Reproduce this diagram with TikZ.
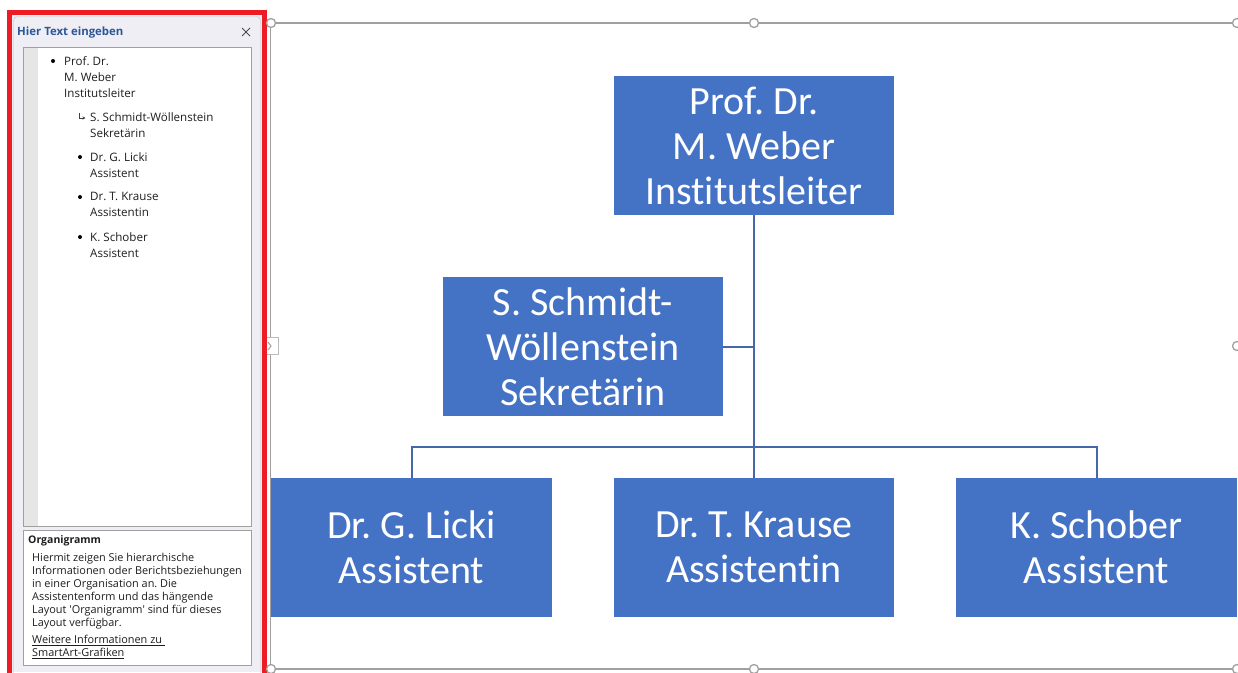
\documentclass[tikz,border=0pt]{standalone}
\usepackage{fontspec}
\setmainfont{Carlito}[Ligatures=NoCommon]
\newfontfamily\uifont{Open Sans}
\usetikzlibrary{arrows.meta}
\frenchspacing
\definecolor{boxblue}{RGB}{68,114,196}
\definecolor{wireblue}{RGB}{68,104,168}
\definecolor{panelbg}{RGB}{238,238,244}
\definecolor{panelrule}{RGB}{190,190,200}
\definecolor{stripgray}{RGB}{230,230,230}
\definecolor{framegray}{RGB}{160,160,160}
\definecolor{alertred}{RGB}{237,28,36}
\definecolor{titleblue}{RGB}{43,87,154}
\definecolor{uitext}{RGB}{30,30,30}
\tikzset{
  orgbox/.style={fill=boxblue, text=white, minimum width=280pt, minimum height=139pt,
    inner sep=0pt, align=center, font=\fontsize{40}{45}\selectfont},
  wire/.style={draw=wireblue, line width=2pt},
  handle/.style={circle, draw=framegray, fill=white, line width=1.3pt, minimum size=9pt, inner sep=0pt},
  entry/.style={anchor=north west, inner sep=0pt, align=left, text=uitext,
    font=\uifont\fontsize{11.6}{16}\selectfont},
  blurb/.style={anchor=north west, inner sep=0pt, align=left, text=uitext,
    font=\uifont\fontsize{10.9}{13}\selectfont},
  dot/.style={circle, fill=black, minimum size=4pt, inner sep=0pt},
}
\begin{document}
\begin{tikzpicture}[x=1pt, y=-1pt]
\useasboundingbox (0,0) rectangle (1238,672);
\fill[white] (0,0) rectangle (1238,672);

% ---- text pane on the left ----
\fill[panelbg] (12,15) rectangle (262,672);
\draw[panelrule, rounded corners=4pt] (13.5,16.5) -- (260.5,16.5) -- (260.5,680) -- (13.5,680) -- cycle;
\node[anchor=mid west, inner sep=0pt, text=titleblue, font=\uifont\bfseries\fontsize{11.4}{13}\selectfont] (panetitle) at (17,33.5) {Hier Text eingeben};
\draw[black!70, line width=1pt] (242,28) -- (250,36) (242,36) -- (250,28);

% entry list
\draw[framegray, fill=white] (23.5,47.5) rectangle (251.5,526.5);
\fill[stripgray] (24,48) rectangle (38,526);
\node[dot] (b1) at (53,61) {};
\node[entry] (e1) at (64,56) {Prof. Dr.\\M. Weber\\Institutsleiter};
\draw[black!75, line width=0.7pt, -{Stealth[length=3pt,width=3pt]}] (79,112.5) |- (85.5,118);
\node[entry] (e2) at (90,112) {S. Schmidt-Wöllenstein\\Sekretärin};
\node[dot] (b3) at (80,157) {};
\node[entry] (e3) at (90,152) {Dr. G. Licki\\Assistent};
\node[dot] (b4) at (80,197) {};
\node[entry] (e4) at (90,192) {Dr. T. Krause\\Assistentin};
\node[dot] (b5) at (80,237) {};
\node[entry] (e5) at (90,232) {K. Schober\\Assistent};

% description box
\draw[framegray, fill=white] (23.5,530.5) rectangle (251.5,665.5);
\node[anchor=mid west, inner sep=0pt, text=uitext, font=\uifont\bfseries\fontsize{10.5}{12}\selectfont] (desctitle) at (28,541) {Organigramm};
\node[blurb] (desc) at (32,553) {Hiermit zeigen Sie hierarchische\\Informationen oder Berichtsbeziehungen\\in einer Organisation an. Die\\Assistentenform und das hängende\\Layout 'Organigramm' sind für dieses\\Layout verfügbar.};
\node[blurb] (link) at (32,635) {\underline{Weitere Informationen zu\ }\\\underline{SmartArt-Grafiken}};

% collapse tab and pane highlight
\draw[framegray!70, fill=white] (262.5,337.5) rectangle (278.5,354.5);
\draw[framegray, line width=1pt] (268,342) -- (271,346) -- (268,350);
\draw[alertred, line width=5.5pt] (9.5,700) -- (9.5,12.5) -- (264.5,12.5) -- (264.5,700);

% ---- graphic frame ----
\draw[framegray, line width=1.2pt] (271,23) -- (1237,23) (271,669) -- (1237,669) (270.5,23) -- (270.5,337);
\draw[framegray, line width=1.2pt] (270.5,355) -- (270.5,669);
\node[handle] (h1) at (271,23) {};
\node[handle] (h2) at (754,23) {};
\node[handle] (h3) at (1237,23) {};
\node[handle] (h4) at (1237,346) {};
\node[handle] (h5) at (1237,669) {};
\node[handle] (h6) at (754,669) {};
\node[handle] (h7) at (271,669) {};

% ---- organisation chart ----
\node[orgbox] (head) at (754,145.5) {Prof. Dr.\\M. Weber\\Institutsleiter};
\node[orgbox] (sec) at (583,346.5) {S. Schmidt-\\Wöllenstein\\Sekretärin};
\node[orgbox, minimum width=281pt] (licki) at (411.5,547.5) {Dr. G. Licki\\Assistent};
\node[orgbox] (krause) at (754,547.5) {Dr. T. Krause\\Assistentin};
\node[orgbox, minimum width=281pt] (schober) at (1096.5,547.5) {K. Schober\\Assistent};

\coordinate (hub) at (754,447);
\draw[wire] (head.south) -- (hub);
\draw[wire] (sec.east) -- (sec.east -| head.south);
\draw[wire] (licki.north) |- (hub) -| (schober.north);
\draw[wire] (hub) -- (krause.north);
\end{tikzpicture}
\end{document}
